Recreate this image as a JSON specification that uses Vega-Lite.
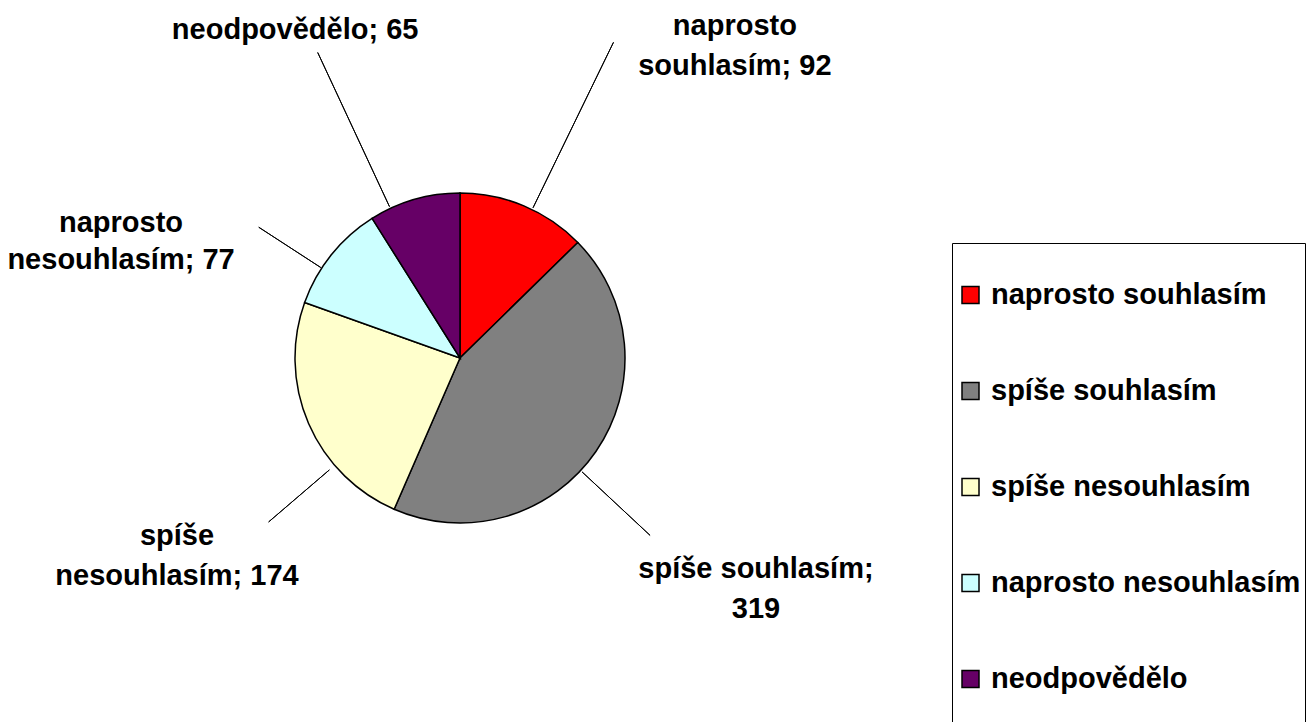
{
  "$schema": "https://vega.github.io/schema/vega-lite/v6.json",
  "width": 1307,
  "height": 722,
  "autosize": "none",
  "padding": 0,
  "background": "white",
  "config": {
    "view": {"stroke": null},
    "font": "Liberation Sans",
    "legend": {
      "orient": "none",
      "legendX": 952,
      "legendY": 243,
      "padding": 4,
      "strokeColor": "black",
      "fillColor": "white",
      "symbolType": "square",
      "symbolSize": 289,
      "symbolStrokeColor": "black",
      "symbolStrokeWidth": 1.5,
      "labelFont": "Liberation Sans",
      "labelFontWeight": "bold",
      "labelFontSize": 29,
      "labelColor": "black",
      "labelLimit": 600,
      "labelOffset": 6,
      "clipHeight": 96,
      "rowPadding": 0
    }
  },
  "data": {
    "values": [
      {"kategorie": "naprosto souhlasím", "pocet": 92, "poradi": 1, "popisek": "naprosto\nsouhlasím; 92"},
      {"kategorie": "spíše souhlasím", "pocet": 319, "poradi": 2, "popisek": "spíše souhlasím;\n319"},
      {"kategorie": "spíše nesouhlasím", "pocet": 174, "poradi": 3, "popisek": "spíše\nnesouhlasím; 174"},
      {"kategorie": "naprosto nesouhlasím", "pocet": 77, "poradi": 4, "popisek": "naprosto\nnesouhlasím; 77"},
      {"kategorie": "neodpovědělo", "pocet": 65, "poradi": 5, "popisek": "neodpovědělo; 65"}
    ]
  },
  "layer": [
    {
      "mark": {"type": "arc", "outerRadius": 165, "stroke": "black", "strokeWidth": 1.5},
      "encoding": {
        "x": {"value": 460},
        "y": {"value": 358},
        "theta": {"field": "pocet", "type": "quantitative", "stack": true},
        "order": {"field": "poradi", "type": "quantitative"},
        "color": {
          "field": "kategorie",
          "type": "nominal",
          "scale": {
            "domain": ["naprosto souhlasím", "spíše souhlasím", "spíše nesouhlasím", "naprosto nesouhlasím", "neodpovědělo"],
            "range": ["#FF0000", "#808080", "#FFFFCC", "#CCFFFF", "#660066"]
          },
          "legend": {"title": null}
        }
      }
    },
    {
      "transform": [
        {"stack": "pocet", "groupby": [], "sort": [{"field": "poradi", "order": "ascending"}], "as": ["s", "e"]},
        {"fold": ["s", "e"], "as": ["k", "v"]},
        {"aggregate": [{"op": "mean", "field": "v", "as": "mid"}], "groupby": ["kategorie", "popisek"]}
      ],
      "layer": [
        {
          "transform": [{"filter": "datum.kategorie == 'naprosto souhlasím'"}],
          "mark": {"type": "arc", "stroke": "black", "strokeWidth": 1, "fill": null, "thetaOffset": 0.055, "theta2Offset": 0.055},
          "encoding": {"x": {"value": 460}, "y": {"value": 358}, "theta": {"field": "mid", "type": "quantitative", "stack": null}, "theta2": {"field": "mid"}, "radius": {"value": 351}, "radius2": {"value": 167}}
        },
        {
          "transform": [{"filter": "datum.kategorie == 'spíše souhlasím'"}],
          "mark": {"type": "arc", "stroke": "black", "strokeWidth": 1, "fill": null, "thetaOffset": 0.148, "theta2Offset": 0.148},
          "encoding": {"x": {"value": 460}, "y": {"value": 358}, "theta": {"field": "mid", "type": "quantitative", "stack": null}, "theta2": {"field": "mid"}, "radius": {"value": 260}, "radius2": {"value": 167}}
        },
        {
          "transform": [{"filter": "datum.kategorie == 'spíše nesouhlasím'"}],
          "mark": {"type": "arc", "stroke": "black", "strokeWidth": 1, "fill": null, "thetaOffset": -0.3, "theta2Offset": -0.3},
          "encoding": {"x": {"value": 460}, "y": {"value": 358}, "theta": {"field": "mid", "type": "quantitative", "stack": null}, "theta2": {"field": "mid"}, "radius": {"value": 252}, "radius2": {"value": 172}}
        },
        {
          "transform": [{"filter": "datum.kategorie == 'naprosto nesouhlasím'"}],
          "mark": {"type": "arc", "stroke": "black", "strokeWidth": 1, "fill": null, "thetaOffset": -0.1, "theta2Offset": -0.1},
          "encoding": {"x": {"value": 460}, "y": {"value": 358}, "theta": {"field": "mid", "type": "quantitative", "stack": null}, "theta2": {"field": "mid"}, "radius": {"value": 240}, "radius2": {"value": 166}}
        },
        {
          "transform": [{"filter": "datum.kategorie == 'neodpovědělo'"}],
          "mark": {"type": "arc", "stroke": "black", "strokeWidth": 1, "fill": null, "thetaOffset": -0.155, "theta2Offset": -0.155},
          "encoding": {"x": {"value": 460}, "y": {"value": 358}, "theta": {"field": "mid", "type": "quantitative", "stack": null}, "theta2": {"field": "mid"}, "radius": {"value": 337}, "radius2": {"value": 167}}
        },
        {
          "transform": [{"filter": "datum.kategorie == 'naprosto souhlasím'"}],
          "mark": {"type": "text", "font": "Liberation Sans", "fontWeight": "bold", "fontSize": 29, "color": "black", "align": "center", "baseline": "middle", "lineBreak": "\n", "lineHeight": 40, "thetaOffset": 0.294},
          "encoding": {"x": {"value": 460}, "y": {"value": 358}, "theta": {"field": "mid", "type": "quantitative", "stack": null}, "radius": {"value": 431}, "text": {"field": "popisek"}}
        },
        {
          "transform": [{"filter": "datum.kategorie == 'spíše souhlasím'"}],
          "mark": {"type": "text", "font": "Liberation Sans", "fontWeight": "bold", "fontSize": 29, "color": "black", "align": "center", "baseline": "middle", "lineBreak": "\n", "lineHeight": 40, "thetaOffset": 0.0166},
          "encoding": {"x": {"value": 460}, "y": {"value": 358}, "theta": {"field": "mid", "type": "quantitative", "stack": null}, "radius": {"value": 363.5}, "text": {"field": "popisek"}}
        },
        {
          "transform": [{"filter": "datum.kategorie == 'spíše nesouhlasím'"}],
          "mark": {"type": "text", "font": "Liberation Sans", "fontWeight": "bold", "fontSize": 29, "color": "black", "align": "center", "baseline": "middle", "lineBreak": "\n", "lineHeight": 40, "thetaOffset": -0.153},
          "encoding": {"x": {"value": 460}, "y": {"value": 358}, "theta": {"field": "mid", "type": "quantitative", "stack": null}, "radius": {"value": 334.3}, "text": {"field": "popisek"}}
        },
        {
          "transform": [{"filter": "datum.kategorie == 'naprosto nesouhlasím'"}],
          "mark": {"type": "text", "font": "Liberation Sans", "fontWeight": "bold", "fontSize": 29, "color": "black", "align": "center", "baseline": "middle", "lineBreak": "\n", "lineHeight": 37, "thetaOffset": -0.297},
          "encoding": {"x": {"value": 460}, "y": {"value": 358}, "theta": {"field": "mid", "type": "quantitative", "stack": null}, "radius": {"value": 364.9}, "text": {"field": "popisek"}}
        },
        {
          "transform": [{"filter": "datum.kategorie == 'neodpovědělo'"}],
          "mark": {"type": "text", "font": "Liberation Sans", "fontWeight": "bold", "fontSize": 29, "color": "black", "align": "center", "baseline": "middle", "lineBreak": "\n", "lineHeight": 40, "thetaOffset": -0.185},
          "encoding": {"x": {"value": 460}, "y": {"value": 358}, "theta": {"field": "mid", "type": "quantitative", "stack": null}, "radius": {"value": 367}, "text": {"field": "popisek"}}
        }
      ]
    }
  ]
}
